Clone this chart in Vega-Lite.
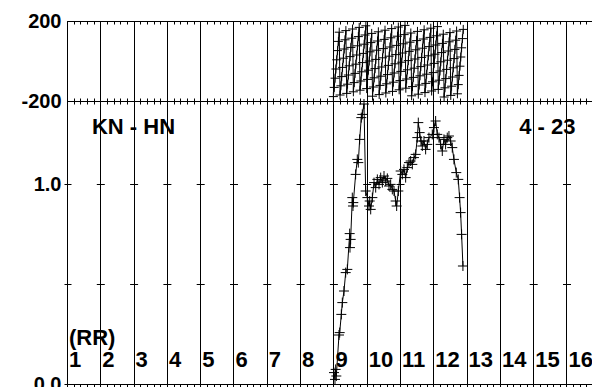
{
  "$schema": "https://vega.github.io/schema/vega-lite/v6.json",
  "padding": {"left": 20, "top": 10, "right": 0, "bottom": 0},
  "spacing": 0,
  "bounds": "flush",
  "config": {
    "view": {"stroke": "black", "strokeWidth": 1},
    "axis": {"labelFont": "Liberation Sans", "labelFontWeight": "bold", "labelFontSize": 20, "labelColor": "black", "tickColor": "black", "domain": false, "gridColor": "black", "gridOpacity": 1, "title": null},
    "axisX": {"minExtent": 0, "maxExtent": 0, "labelPadding": 0}
  },
  "datasets": {
    "phase": [
      {"f":9.000,"p":-178},{"f":9.025,"p":-132},{"f":9.050,"p":-86},{"f":9.075,"p":-40},{"f":9.100,"p":6},{"f":9.125,"p":52},{"f":9.150,"p":98},{"f":9.175,"p":144},
      {"f":9.200,"p":-170},{"f":9.225,"p":-124},{"f":9.250,"p":-78},{"f":9.275,"p":-32},{"f":9.300,"p":14},{"f":9.325,"p":60},{"f":9.350,"p":106},{"f":9.375,"p":152},
      {"f":9.400,"p":-162},{"f":9.425,"p":-116},{"f":9.450,"p":-70},{"f":9.475,"p":-24},{"f":9.500,"p":22},{"f":9.525,"p":68},{"f":9.550,"p":114},{"f":9.575,"p":160},
      {"f":9.600,"p":-154},{"f":9.625,"p":-108},{"f":9.650,"p":-62},{"f":9.675,"p":-16},{"f":9.700,"p":30},{"f":9.725,"p":76},{"f":9.750,"p":122},{"f":9.775,"p":168},
      {"f":9.800,"p":-146},{"f":9.825,"p":-100},{"f":9.850,"p":-54},{"f":9.875,"p":-8},{"f":9.900,"p":38},{"f":9.925,"p":84},{"f":9.950,"p":130},{"f":9.975,"p":176},
      {"f":10.000,"p":-138},{"f":10.025,"p":-92},{"f":10.050,"p":-46},{"f":10.075,"p":0},{"f":10.100,"p":46},{"f":10.125,"p":92},{"f":10.150,"p":138},
      {"f":10.175,"p":-176},{"f":10.200,"p":-130},{"f":10.225,"p":-84},{"f":10.250,"p":-38},{"f":10.275,"p":8},{"f":10.300,"p":54},{"f":10.325,"p":100},{"f":10.350,"p":146},
      {"f":10.375,"p":-168},{"f":10.400,"p":-122},{"f":10.425,"p":-76},{"f":10.450,"p":-30},{"f":10.475,"p":16},{"f":10.500,"p":62},{"f":10.525,"p":108},{"f":10.550,"p":154},
      {"f":10.575,"p":-160},{"f":10.600,"p":-114},{"f":10.625,"p":-68},{"f":10.650,"p":-22},{"f":10.675,"p":24},{"f":10.700,"p":70},{"f":10.725,"p":116},{"f":10.750,"p":162},
      {"f":10.775,"p":-152},{"f":10.800,"p":-106},{"f":10.825,"p":-60},{"f":10.850,"p":-14},{"f":10.875,"p":32},{"f":10.900,"p":78},{"f":10.925,"p":124},{"f":10.950,"p":170},
      {"f":10.975,"p":-144},{"f":11.000,"p":-98},{"f":11.025,"p":-52},{"f":11.050,"p":-6},{"f":11.075,"p":40},{"f":11.100,"p":86},{"f":11.125,"p":132},{"f":11.150,"p":178},
      {"f":11.175,"p":-136},{"f":11.200,"p":-90},{"f":11.225,"p":-44},{"f":11.250,"p":2},{"f":11.275,"p":48},{"f":11.300,"p":94},{"f":11.325,"p":140},
      {"f":11.350,"p":-174},{"f":11.375,"p":-128},{"f":11.400,"p":-82},{"f":11.425,"p":-36},{"f":11.450,"p":10},{"f":11.475,"p":56},{"f":11.500,"p":102},{"f":11.525,"p":148},
      {"f":11.550,"p":-166},{"f":11.575,"p":-120},{"f":11.600,"p":-74},{"f":11.625,"p":-28},{"f":11.650,"p":18},{"f":11.675,"p":64},{"f":11.700,"p":110},{"f":11.725,"p":156},
      {"f":11.750,"p":-158},{"f":11.775,"p":-112},{"f":11.800,"p":-66},{"f":11.825,"p":-20},{"f":11.850,"p":26},{"f":11.875,"p":72},{"f":11.900,"p":118},{"f":11.925,"p":164},
      {"f":11.950,"p":-150},{"f":11.975,"p":-104},{"f":12.000,"p":-58},{"f":12.025,"p":-12},{"f":12.050,"p":34},{"f":12.075,"p":80},{"f":12.100,"p":126},{"f":12.125,"p":172},
      {"f":12.150,"p":-142},{"f":12.175,"p":-96},{"f":12.200,"p":-50},{"f":12.225,"p":-4},{"f":12.250,"p":42},{"f":12.275,"p":88},{"f":12.300,"p":134},
      {"f":12.325,"p":-180},{"f":12.350,"p":-134},{"f":12.375,"p":-88},{"f":12.400,"p":-42},{"f":12.425,"p":4},{"f":12.450,"p":50},{"f":12.475,"p":96},{"f":12.500,"p":142},
      {"f":12.525,"p":-172},{"f":12.550,"p":-126},{"f":12.575,"p":-80},{"f":12.600,"p":-34},{"f":12.625,"p":12},{"f":12.650,"p":58},{"f":12.675,"p":104},{"f":12.700,"p":150},
      {"f":12.725,"p":-164},{"f":12.750,"p":-118},{"f":12.775,"p":-72},{"f":12.800,"p":-26},{"f":12.825,"p":20},{"f":12.850,"p":66},{"f":12.875,"p":112},{"f":12.900,"p":158}
    ],
    "amp": [
      {"f":9.018,"a":0.057},{"f":9.048,"a":0.023},{"f":9.068,"a":0.073},{"f":9.088,"a":0.040},
      {"f":9.168,"a":0.245},{"f":9.189,"a":0.257},{"f":9.238,"a":0.348},{"f":9.268,"a":0.407},
      {"f":9.318,"a":0.465},{"f":9.369,"a":0.557},{"f":9.418,"a":0.573},{"f":9.489,"a":0.752},
      {"f":9.498,"a":0.682},{"f":9.518,"a":0.723},{"f":9.568,"a":0.932},{"f":9.588,"a":0.890},
      {"f":9.598,"a":0.907},{"f":9.668,"a":1.048},{"f":9.718,"a":1.123},{"f":9.748,"a":1.107},
      {"f":9.789,"a":1.223},{"f":9.838,"a":1.332},{"f":9.868,"a":1.348},{"f":9.919,"a":1.400},
      {"f":9.969,"a":0.965},{"f":10.02,"a":0.932},{"f":10.07,"a":0.890},{"f":10.09,"a":0.915},
      {"f":10.12,"a":0.873},{"f":10.17,"a":0.932},{"f":10.22,"a":1.007},{"f":10.27,"a":0.982},
      {"f":10.32,"a":1.023},{"f":10.37,"a":0.998},{"f":10.42,"a":1.032},{"f":10.47,"a":1.007},
      {"f":10.52,"a":1.040},{"f":10.57,"a":1.015},{"f":10.62,"a":1.028},{"f":10.67,"a":0.990},
      {"f":10.72,"a":0.998},{"f":10.77,"a":0.973},{"f":10.82,"a":0.965},{"f":10.87,"a":0.915},
      {"f":10.90,"a":0.890},{"f":10.95,"a":0.965},{"f":11.02,"a":1.065},{"f":11.07,"a":1.048},
      {"f":11.12,"a":1.073},{"f":11.17,"a":1.032},{"f":11.22,"a":1.082},{"f":11.27,"a":1.107},
      {"f":11.32,"a":1.115},{"f":11.37,"a":1.098},{"f":11.42,"a":1.132},{"f":11.47,"a":1.148},
      {"f":11.52,"a":1.232},{"f":11.55,"a":1.307},{"f":11.59,"a":1.257},{"f":11.63,"a":1.215},
      {"f":11.67,"a":1.190},{"f":11.72,"a":1.215},{"f":11.77,"a":1.173},{"f":11.82,"a":1.198},
      {"f":11.87,"a":1.232},{"f":11.97,"a":1.248},{"f":12.02,"a":1.282},{"f":12.07,"a":1.315},
      {"f":12.12,"a":1.248},{"f":12.17,"a":1.232},{"f":12.22,"a":1.198},{"f":12.27,"a":1.165},
      {"f":12.32,"a":1.223},{"f":12.37,"a":1.198},{"f":12.42,"a":1.232},{"f":12.47,"a":1.240},
      {"f":12.52,"a":1.215},{"f":12.57,"a":1.182},{"f":12.62,"a":1.123},{"f":12.69,"a":1.057},
      {"f":12.75,"a":1.023},{"f":12.79,"a":0.932},{"f":12.82,"a":0.857},{"f":12.85,"a":0.748},
      {"f":12.89,"a":0.590}
    ],
    "labels": [
      {"x":1,"y":0.085,"t":"1"},{"x":2,"y":0.085,"t":"2"},{"x":3,"y":0.085,"t":"3"},{"x":4,"y":0.085,"t":"4"},
      {"x":5,"y":0.085,"t":"5"},{"x":6,"y":0.085,"t":"6"},{"x":7,"y":0.085,"t":"7"},{"x":8,"y":0.085,"t":"8"},
      {"x":9,"y":0.085,"t":"9"},{"x":10,"y":0.085,"t":"10"},{"x":11,"y":0.085,"t":"11"},{"x":12,"y":0.085,"t":"12"},
      {"x":13,"y":0.085,"t":"13"},{"x":14,"y":0.085,"t":"14"},{"x":15,"y":0.085,"t":"15"},{"x":16,"y":0.085,"t":"16"},
      {"x":1,"y":0.195,"t":"(RR)"},
      {"x":1.69,"y":1.248,"t":"KN - HN"},
      {"x":14.52,"y":1.248,"t":"4 - 23"}
    ]
  },
  "vconcat": [
    {
      "width": 525,
      "height": 80,
      "data": {"name": "phase"},
      "layer": [
        {
          "mark": {"type": "line", "color": "black", "strokeWidth": 1},
          "encoding": {
            "x": {"field": "f", "type": "quantitative", "scale": {"domain": [1, 16.766], "nice": false, "zero": false},
                  "axis": {"orient": "bottom", "tickCount": 80, "labels": false, "tickSize": -3, "grid": true,
                           "gridOpacity": {"condition": {"test": "datum.value % 1 === 0", "value": 1}, "value": 0}, "title": null}},
            "y": {"field": "p", "type": "quantitative", "scale": {"domain": [-200, 200], "nice": false, "zero": false},
                  "axis": {"values": [-200, 0, 200], "labelExpr": "datum.value === 0 ? '' : toString(datum.value)", "ticks": false, "labelPadding": 6, "grid": true, "title": null}}
          }
        },
        {
          "mark": {"type": "point", "shape": "M-1,0H1M0,-1V1", "size": 81, "stroke": "black", "filled": false, "strokeWidth": 1, "opacity": 1},
          "encoding": {
            "x": {"field": "f", "type": "quantitative", "axis": {"orient": "top", "tickCount": 80, "labels": false, "tickSize": -3, "grid": false, "title": null}},
            "y": {"field": "p", "type": "quantitative"}
          }
        }
      ],
      "resolve": {"axis": {"x": "independent"}}
    },
    {
      "width": 525,
      "height": 283,
      "layer": [
        {
          "data": {"name": "amp"},
          "mark": {"type": "line", "color": "black", "strokeWidth": 1},
          "encoding": {
            "x": {"field": "f", "type": "quantitative", "scale": {"domain": [1, 16.766], "nice": false, "zero": false},
                  "axis": {"orient": "bottom", "tickCount": 80, "labels": false, "tickSize": 3, "grid": true,
                           "gridOpacity": {"condition": {"test": "datum.value % 1 === 0", "value": 1}, "value": 0}, "title": null}},
            "y": {"field": "a", "type": "quantitative", "scale": {"domain": [0, 1.415], "nice": false, "zero": false},
                  "axis": {"values": [0, 0.5, 1], "format": ".1f", "labelExpr": "datum.value === 0.5 ? '' : datum.label", "tickSize": 3, "labelPadding": 3,
                           "grid": true, "gridDash": [8, 25.3], "gridDashOffset": 4, "title": null}}
          }
        },
        {
          "data": {"name": "amp"},
          "mark": {"type": "point", "shape": "M-1,0H1M0,-1V1", "size": 100, "stroke": "black", "filled": false, "strokeWidth": 1, "opacity": 1},
          "encoding": {
            "x": {"field": "f", "type": "quantitative", "axis": {"orient": "top", "tickCount": 80, "labels": false, "tickSize": -3, "grid": false, "title": null}},
            "y": {"field": "a", "type": "quantitative"}
          }
        },
        {
          "data": {"name": "labels"},
          "mark": {"type": "text", "align": "left", "baseline": "alphabetic", "dx": 2, "font": "Liberation Sans", "fontWeight": "bold", "fontSize": 22, "color": "black"},
          "encoding": {
            "x": {"field": "x", "type": "quantitative", "axis": null},
            "y": {"field": "y", "type": "quantitative"},
            "text": {"field": "t"}
          }
        }
      ],
      "resolve": {"axis": {"x": "independent"}}
    }
  ]
}
